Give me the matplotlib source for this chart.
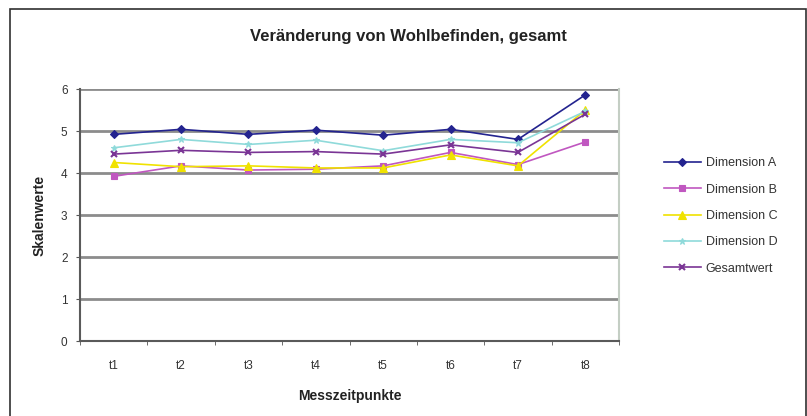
import matplotlib
matplotlib.use("Agg")
import matplotlib.pyplot as plt
from matplotlib.patches import Rectangle
import numpy as np

plt.rcParams['font.family'] = ['Liberation Sans', 'DejaVu Sans']

timepoints = ["t1", "t2", "t3", "t4", "t5", "t6", "t7", "t8"]
dim_a = [4.92, 5.04, 4.92, 5.02, 4.90, 5.04, 4.80, 5.86]
dim_b = [3.92, 4.17, 4.07, 4.09, 4.17, 4.49, 4.20, 4.74]
dim_c = [4.25, 4.15, 4.17, 4.12, 4.12, 4.43, 4.17, 5.50]
dim_d = [4.60, 4.80, 4.68, 4.78, 4.53, 4.80, 4.72, 5.47]
gesamt = [4.45, 4.54, 4.49, 4.51, 4.45, 4.67, 4.49, 5.40]

series = [
    ("Dimension A", dim_a, "#23238f", "D", 4.5),
    ("Dimension B", dim_b, "#c057c0", "s", 5),
    ("Dimension C", dim_c, "#f0e200", "^", 5.5),
    ("Dimension D", dim_d, "#8fdada", "*", 5),
    ("Gesamtwert", gesamt, "#7a3595", "x", 4.5),
]

fig = plt.figure(figsize=(8.07, 4.16), dpi=100)
fig.patch.set_facecolor("white")

# outer chart frame
fig.patches.append(Rectangle((10 / 807, -0.01), 796 / 807, 1 - 9 / 416 + 0.01,
                             transform=fig.transFigure, fill=False,
                             edgecolor="#303030", linewidth=1.2))

ax = fig.add_axes([80 / 807, 75 / 416, 539 / 807, 252 / 416])
x = np.arange(len(timepoints))

for yv in range(1, 7):
    ax.axhline(yv, color="#8c8c8c", linewidth=2.0, zorder=1)

for name, vals, col, mk, ms in series:
    mew = 1.5 if mk == "x" else 0.8
    ax.plot(x, vals, color=col, linewidth=1.2, marker=mk, markersize=ms,
            markerfacecolor=col, markeredgecolor=col, markeredgewidth=mew,
            label=name, zorder=3)

ax.set_xlim(-0.5, len(timepoints) - 0.5)
ax.set_ylim(0, 6)
ax.set_yticks(range(0, 7))
ax.set_xticks(x)
ax.set_xticklabels(timepoints)
ax.set_xticks(np.arange(-0.5, len(timepoints)), minor=True)
ax.tick_params(axis="x", which="major", length=0, pad=14, labelsize=8.5,
               labelcolor="#333333")
ax.tick_params(axis="x", which="minor", length=3, color="#555555")
ax.tick_params(axis="y", length=3, color="#555555", labelsize=8.5,
               labelcolor="#333333", pad=6)

for side in ["left", "bottom"]:
    ax.spines[side].set_color("#5a5a5a")
    ax.spines[side].set_linewidth(1.5)
ax.spines["top"].set_visible(False)
ax.spines["right"].set_color("#c4cec4")
ax.spines["right"].set_linewidth(1.5)

ax.set_xlabel("Messzeitpunkte", fontsize=10, fontweight="bold",
              color="#222222", labelpad=12)
ax.set_ylabel("Skalenwerte", fontsize=10, fontweight="bold",
              color="#222222", labelpad=10)

fig.text(408 / 807, 1 - 36 / 416, "Veränderung von Wohlbefinden, gesamt",
         ha="center", va="center", fontsize=12, fontweight="bold",
         color="#222222")

leg = ax.legend(loc="upper left", bbox_to_anchor=(653 / 807, 1 - 146 / 416),
                bbox_transform=fig.transFigure, frameon=False, fontsize=9,
                handlelength=2.9, handletextpad=0.4, labelspacing=1.15)
for t in leg.get_texts():
    t.set_color("#333333")

fig.savefig("out.png", dpi=100, facecolor="white")
